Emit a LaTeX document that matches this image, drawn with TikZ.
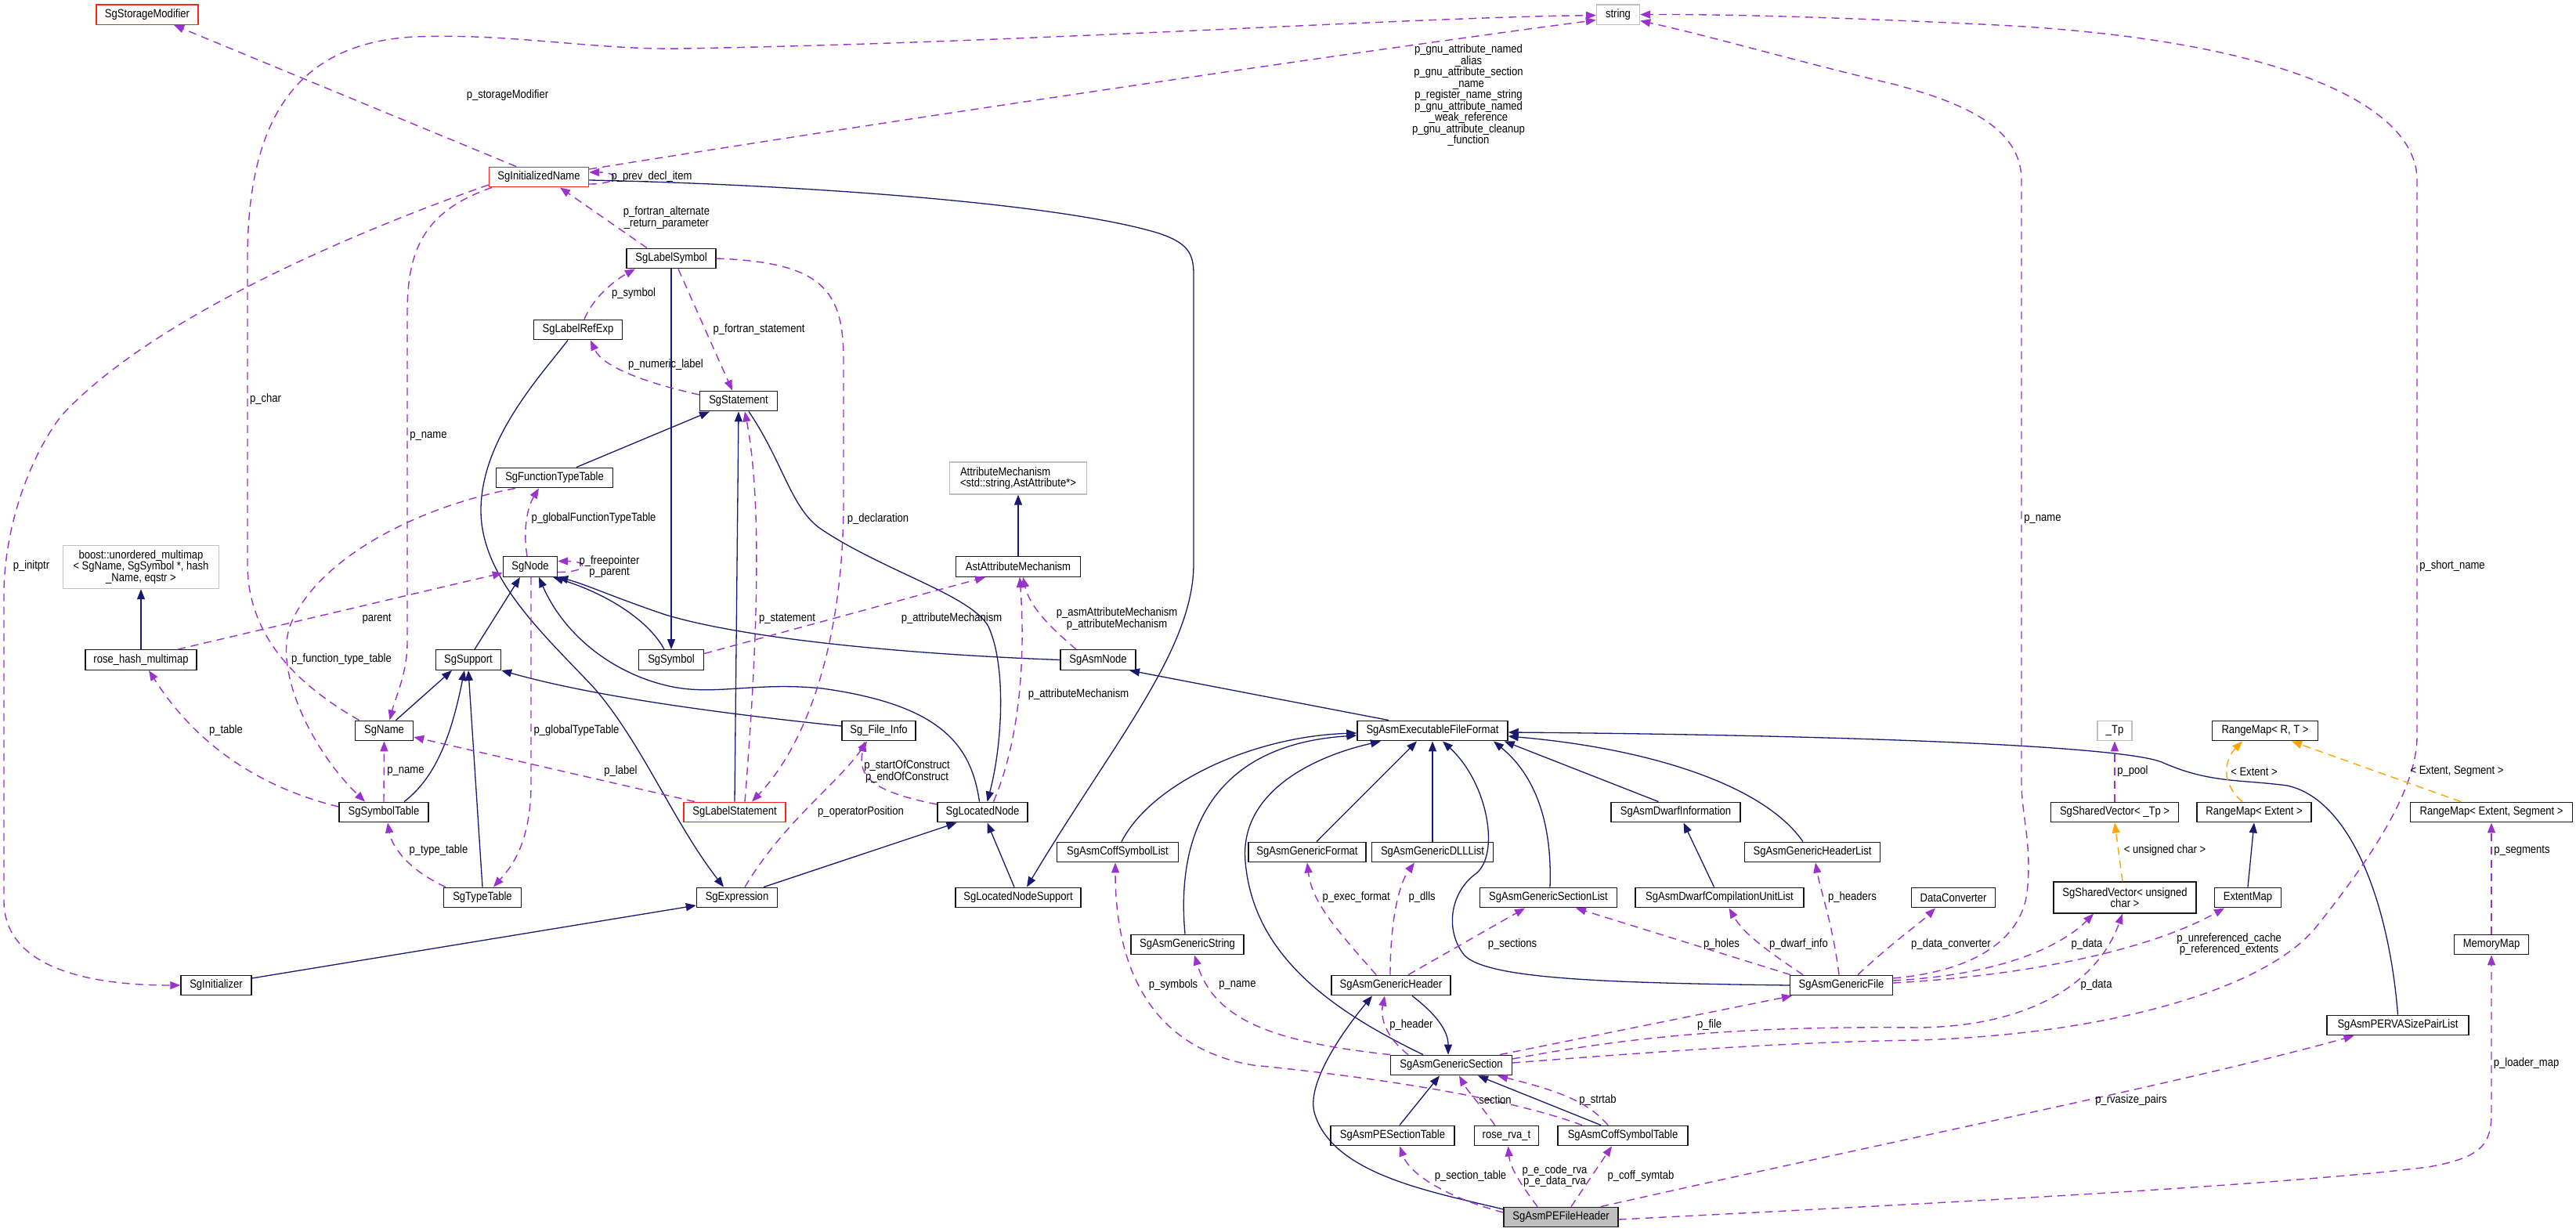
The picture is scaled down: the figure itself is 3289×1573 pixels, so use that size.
\documentclass[tikz,border=0pt]{standalone}
\usepackage{fontspec}
\setmainfont{Liberation Sans}[FakeStretch=0.87]
\usepackage{tikz}
\usetikzlibrary{arrows.meta}
\definecolor{edgeblue}{HTML}{191970}
\definecolor{edgepurple}{HTML}{9A32CD}
\definecolor{edgeorange}{HTML}{FFA500}
\definecolor{boxred}{HTML}{FF2020}
\definecolor{boxgray}{HTML}{BFBFBF}
\newcommand{\dgfont}{\fontsize{15pt}{14.5pt}\selectfont}

\begin{document}
\begin{tikzpicture}[x=1pt, y=-1pt, every node/.style={font=\dgfont},
    box/.style={rectangle, draw=black!90, line width=1.4pt, fill=white, minimum height=25.5pt, inner xsep=2pt, inner ysep=2pt},
    redbox/.style={box, draw=boxred},
    extbox/.style={box, draw=boxgray},
    inh/.style={draw=edgeblue, line width=1.3pt, -{Triangle[length=13pt,width=10pt]}},
    use/.style={draw=edgepurple, line width=1.4pt, dash pattern=on 10pt off 7pt, -{Triangle[length=13pt,width=10pt]}},
    tpl/.style={draw=edgeorange, line width=1.4pt, dash pattern=on 10pt off 7pt, -{Triangle[length=13pt,width=10pt]}},
    lbl/.style={inner sep=0pt, align=center}]
    \path[use as bounding box, fill=white] (0,0) rectangle (3289,1573);

    % Classes
    \node[redbox, minimum width=130pt] (stor) at (188,18.6) {SgStorageModifier};
    \node[extbox, minimum width=55pt] (str) at (2066,18.6) {string};
    \node[redbox, minimum width=127pt] (init) at (688,226) {SgInitializedName};
    \node[box, minimum width=114pt] (lsym) at (857,330) {SgLabelSymbol};
    \node[box, minimum width=113pt] (lref) at (738,421) {SgLabelRefExp};
    \node[box, minimum width=99pt] (stmt) at (943,512) {SgStatement};
    \node[box, minimum width=149pt] (ftt) at (708,610) {SgFunctionTypeTable};
    \node[extbox, minimum width=175pt, minimum height=41pt, align=left] (amech) at (1300,610.5) {AttributeMechanism\\<std::string,AstAttribute*>};
    \node[extbox, minimum width=199pt, minimum height=55pt, align=center] (umap) at (180,724) {boost::unordered\_multimap\\< SgName, SgSymbol *, hash\\\_Name, eqstr >};
    \node[box, minimum width=69pt] (node) at (677,723.5) {SgNode};
    \node[box, minimum width=159pt] (aam) at (1300,723.5) {AstAttributeMechanism};
    \node[box, minimum width=142pt] (rhm) at (180,842.5) {rose\_hash\_multimap};
    \node[box, minimum width=83pt] (supp) at (598,842.5) {SgSupport};
    \node[box, minimum width=83pt] (sym) at (857,842.5) {SgSymbol};
    \node[box, minimum width=96pt] (asmn) at (1402,842.5) {SgAsmNode};
    \node[box, minimum width=74pt] (name) at (490.5,933) {SgName};
    \node[box, minimum width=94pt] (finfo) at (1122,933) {Sg\_File\_Info};
    \node[box, minimum width=192pt] (exe) at (1829,933) {SgAsmExecutableFileFormat};
    \node[extbox, minimum width=44pt] (tp) at (2700,933) {\_Tp};
    \node[box, minimum width=135pt] (rmrt) at (2892,933) {RangeMap< R, T >};
    \node[box, minimum width=114pt] (stab) at (490,1037) {SgSymbolTable};
    \node[redbox, minimum width=130pt] (lstmt) at (938,1037) {SgLabelStatement};
    \node[box, minimum width=115pt] (loc) at (1254.5,1037) {SgLocatedNode};
    \node[box, minimum width=165pt] (dwi) at (2139.5,1037) {SgAsmDwarfInformation};
    \node[box, minimum width=163pt] (svtp) at (2700,1037) {SgSharedVector< \_Tp >};
    \node[box, minimum width=146pt] (rmext) at (2878,1037) {RangeMap< Extent >};
    \node[box, minimum width=207pt] (rmseg) at (3181,1037) {RangeMap< Extent, Segment >};
    \node[box, minimum width=155pt] (csl) at (1427,1088) {SgAsmCoffSymbolList};
    \node[box, minimum width=150pt] (gfmt) at (1669,1088) {SgAsmGenericFormat};
    \node[box, minimum width=155pt] (dll) at (1829,1088) {SgAsmGenericDLLList};
    \node[box, minimum width=173pt] (hlist) at (2314,1088) {SgAsmGenericHeaderList};
    \node[box, minimum width=99pt] (ttab) at (616,1146) {SgTypeTable};
    \node[box, minimum width=103pt] (expr) at (941,1146) {SgExpression};
    \node[box, minimum width=160pt] (lns) at (1300,1146) {SgLocatedNodeSupport};
    \node[box, minimum width=175pt] (slist) at (1977,1146) {SgAsmGenericSectionList};
    \node[box, minimum width=215pt] (dcu) at (2195.5,1146) {SgAsmDwarfCompilationUnitList};
    \node[box, minimum width=107pt] (dconv) at (2494,1146) {DataConverter};
    \node[box, minimum width=182pt, minimum height=40pt, align=center] (svuc) at (2713,1146) {SgSharedVector< unsigned\\char >};
    \node[box, minimum width=85pt] (emap) at (2870,1146) {ExtentMap};
    \node[box, minimum width=144pt] (gstr) at (1516,1206) {SgAsmGenericString};
    \node[box, minimum width=95pt] (mmap) at (3181,1206) {MemoryMap};
    \node[box, minimum width=90pt] (initz) at (276,1258) {SgInitializer};
    \node[box, minimum width=152pt] (ghdr) at (1776,1258) {SgAsmGenericHeader};
    \node[box, minimum width=131pt] (gfile) at (2351,1258) {SgAsmGenericFile};
    \node[box, minimum width=181pt] (rvap) at (3061.5,1309) {SgAsmPERVASizePairList};
    \node[box, minimum width=155pt] (gsec) at (1853,1360) {SgAsmGenericSection};
    \node[box, minimum width=158pt] (pest) at (1778,1450) {SgAsmPESectionTable};
    \node[box, minimum width=82pt] (rva) at (1923.5,1450) {rose\_rva\_t};
    \node[box, minimum width=166pt] (cst) at (2072,1450) {SgAsmCoffSymbolTable};
    \node[box, minimum width=146pt, fill=boxgray] (pefh) at (1993,1554) {SgAsmPEFileHeader};

    % Inheritance
    \draw[inh] (rhm.north) -- (umap.south);
    \draw[inh] (aam.north) -- (amech.south);
    \draw[inh] ([yshift=-4pt]init.east) .. controls (1000,235) and (1350,258) .. (1480,298) .. controls (1515,310) and (1524,322) .. (1524,350) -- (1524,720) .. controls (1524,830) and (1420,950) .. ([xshift=11pt]lns.north);
    \draw[inh] ([xshift=28pt]ftt.north) -- ([xshift=-37pt]stmt.south);
    \draw[inh] (lstmt.north) -- (stmt.south);
    \draw[inh] (lsym.south) -- (sym.north);
    \draw[inh] ([xshift=-13pt]lref.south) .. controls (690,480) and (615,560) .. (614,650) .. controls (613,740) and (700,815) .. (760,880) .. controls (820,950) and (860,1050) .. ([xshift=-17pt]expr.north);
    \draw[inh] ([xshift=13pt]stmt.south) .. controls (1000,590) and (1010,650) .. (1049,676) .. controls (1130,730) and (1240,760) .. (1262,800) .. controls (1285,850) and (1280,950) .. ([xshift=6pt]loc.north);
    \draw[inh] ([xshift=-9pt]sym.north) .. controls (830,795) and (780,760) .. ([xshift=-6pt]node.south east);
    \draw[inh] (asmn.west) .. controls (1150,835) and (950,815) .. (850,785) .. controls (790,765) and (745,745) .. (node.south east);
    \draw[inh] ([xshift=-4pt]loc.north) .. controls (1240,950) and (1200,900) .. (1050,879) .. controls (960,870) and (910,890) .. (850,875) .. controls (780,858) and (720,810) .. ([xshift=11pt]node.south);
    \draw[inh] ([xshift=8pt]supp.north) -- ([xshift=-13pt]node.south);
    \draw[inh] ([xshift=-56pt]exe.north) -- ([xshift=40pt]asmn.south);
    \draw[inh] ([xshift=34pt]expr.north) -- ([xshift=-33pt]loc.south);
    \draw[inh] ([yshift=9pt]initz.east) -- ([yshift=-10pt]expr.west);
    \draw[inh] ([xshift=-5pt]lns.north) -- ([xshift=6pt]loc.south);
    \draw[inh] ([xshift=15pt]name.north) -- ([xshift=-21pt]supp.south);
    \draw[inh] ([xshift=26pt]stab.north) .. controls (560,990) and (578,930) .. ([xshift=-5pt]supp.south);
    \draw[inh] (ttab.north) -- (supp.south);
    \draw[inh] ([yshift=6pt]finfo.west) .. controls (930,912) and (760,890) .. (supp.south east);
    \draw[inh] (emap.north) -- (rmext.south);
    \draw[inh] ([xshift=-7pt]dcu.north) -- ([xshift=10pt]dwi.south);
    \draw[inh] ([xshift=-22pt]dwi.north) -- ([xshift=-5pt]exe.south east);
    \draw[inh] ([xshift=5pt]csl.north) .. controls (1470,1000) and (1600,940) .. ([yshift=-3pt]exe.west);
    \draw[inh] ([xshift=-3pt]gstr.north) .. controls (1500,1050) and (1560,950) .. ([yshift=-6pt]exe.west);
    \draw[inh] ([xshift=12pt]gfmt.north) -- ([xshift=-20pt]exe.south);
    \draw[inh] (dll.north) -- (exe.south);
    \draw[inh] ([xshift=-36pt]gsec.north) .. controls (1700,1290) and (1600,1220) .. (1590,1100) .. controls (1582,1010) and (1680,965) .. ([xshift=-66pt]exe.south);
    \draw[inh] (gfile.west) .. controls (2050,1255) and (1900,1250) .. (1870,1220) .. controls (1845,1190) and (1850,1140) .. (1885,1115) .. controls (1915,1090) and (1900,1000) .. ([xshift=13pt]exe.south);
    \draw[inh] ([xshift=2pt]slist.north) .. controls (1982,1050) and (1960,990) .. ([xshift=78pt]exe.south);
    \draw[inh] ([xshift=-12pt]hlist.north) .. controls (2250,1000) and (2100,955) .. ([yshift=-7pt]exe.east);
    \draw[inh] (rvap.north) .. controls (3050,1150) and (3000,1020) .. (2920,1003) .. controls (2860,995) and (2820,1000) .. (2760,973) .. controls (2700,950) and (2300,938) .. ([yshift=-2pt]exe.east);
    \draw[inh] ([xshift=27pt]ghdr.south) .. controls (1840,1300) and (1849,1320) .. ([xshift=-4pt]gsec.north);
    \draw[inh] ([xshift=9pt]pest.north) -- ([xshift=-15pt]gsec.south);
    \draw[inh] ([xshift=-28pt]cst.north) -- ([xshift=34pt]gsec.south);
    \draw[inh] ([yshift=10pt]pefh.west) .. controls (1830,1522) and (1700,1500) .. (1678,1420) .. controls (1668,1380) and (1720,1310) .. ([xshift=-24pt]ghdr.south);

    % Members
    \draw[use] ([xshift=-29pt]init.north) -- ([xshift=34pt]stor.south);
    \draw[use] ([yshift=10pt]init.east) .. controls (1100,160) and (1700,70) .. ([yshift=-7pt]str.west);
    \draw[use] ([yshift=-9pt]init.east) .. controls +(40,0) and +(40,0) .. ([yshift=6pt]init.east);
    \draw[use] ([xshift=-31pt]lsym.north) -- ([xshift=27pt]init.south);
    \draw[use] ([xshift=8pt]lref.north) .. controls (760,375) and (790,355) .. ([xshift=-46pt]lsym.south);
    \draw[use] ([yshift=8pt]stmt.west) .. controls (830,490) and (770,470) .. ([xshift=16pt]lref.south);
    \draw[use] ([xshift=9pt]lsym.south) -- ([xshift=-8pt]stmt.north);
    \draw[use] (lsym.east) .. controls (1050,335) and (1077,370) .. (1077,460) -- (1077,640) .. controls (1077,820) and (1030,950) .. ([xshift=22pt]lstmt.north);
    \draw[use] ([xshift=13pt]lstmt.north) .. controls (965,850) and (975,650) .. ([xshift=8pt]stmt.south);
    \draw[use] ([yshift=8pt]sym.east) -- ([xshift=-42pt]aam.south);
    \draw[use] ([xshift=-28pt]asmn.north) .. controls (1340,800) and (1315,775) .. ([xshift=6pt]aam.south);
    \draw[use] ([xshift=14pt]loc.north) .. controls (1300,950) and (1310,850) .. ([xshift=2pt]aam.south);
    \draw[use] ([yshift=10pt]loc.west) .. controls (1110,1010) and (1095,990) .. ([xshift=-18pt]finfo.south);
    \draw[use] ([xshift=10pt]expr.north) .. controls (1000,1050) and (1070,1000) .. ([xshift=-15pt]finfo.south);
    \draw[use] ([xshift=-51pt]lstmt.north) -- ([yshift=-8pt]name.east);
    \draw[use] ([xshift=-32pt]name.north) .. controls (390,880) and (316,820) .. (316,720) -- (316,330) .. controls (316,150) and (380,55) .. (529,47) .. controls (650,42) and (760,64) .. (869,62) .. controls (1300,55) and (1800,22) .. ([yshift=-1pt]str.west);
    \draw[use] ([xshift=-60pt]init.south) .. controls (540,270) and (520,320) .. (520,400) -- (520,820) .. controls (520,860) and (505,890) .. ([xshift=7pt]name.north);
    \draw[use] ([yshift=-10pt]init.west) .. controls (470,290) and (200,400) .. (79,530) .. controls (40,580) and (5,670) .. (5,760) -- (5,1150) .. controls (5,1230) and (100,1258) .. (initz.west);
    \draw[use] ([xshift=47pt]rhm.north) -- ([yshift=-8pt]node.west);
    \draw[use] ([yshift=7pt]stab.west) .. controls (330,1005) and (250,950) .. ([xshift=10pt]rhm.south);
    \draw[use] ([xshift=-50pt]ftt.south) .. controls (520,650) and (400,720) .. (370,800) .. controls (350,860) and (400,960) .. ([xshift=-24pt]stab.north);
    \draw[use] ([xshift=-4pt]node.north) .. controls (668,680) and (672,650) .. ([xshift=-20pt]ftt.south);
    \draw[use] ([yshift=-7pt]node.east) .. controls +(40,0) and +(40,0) .. ([yshift=7pt]node.east);
    \draw[use] ([xshift=1pt]node.south) -- (678,1000) .. controls (678,1080) and (650,1110) .. ([xshift=14pt]ttab.north);
    \draw[use] ([xshift=-47pt]ttab.north) .. controls (520,1110) and (500,1080) .. ([xshift=5pt]stab.south);
    \draw[use] (stab.north) -- (name.south);
    \draw[use] ([xshift=-52pt]cst.north) .. controls (1920,1400) and (1750,1375) .. (1600,1360) .. controls (1480,1340) and (1424,1250) .. ([xshift=-3pt]csl.south);
    \draw[use] (gsec.north west) .. controls (1620,1330) and (1550,1300) .. ([xshift=9pt]gstr.south);
    \draw[use] ([xshift=-19pt]ghdr.north) .. controls (1700,1180) and (1675,1150) .. (gfmt.south);
    \draw[use] ([xshift=-1pt]ghdr.north) .. controls (1775,1180) and (1785,1130) .. ([xshift=-23pt]dll.south);
    \draw[use] ([xshift=22pt]ghdr.north) -- ([xshift=-30pt]slist.south);
    \draw[use] ([xshift=-65pt]gfile.north) -- ([xshift=35pt]slist.south);
    \draw[use] ([xshift=-49pt]gfile.north) .. controls (2250,1210) and (2225,1190) .. ([xshift=12pt]dcu.south);
    \draw[use] ([xshift=-3pt]gfile.north) .. controls (2340,1180) and (2325,1140) .. ([xshift=4pt]hlist.south);
    \draw[use] ([xshift=21pt]gfile.north) .. controls (2420,1200) and (2450,1180) .. ([xshift=-23pt]dconv.south);
    \draw[use] ([yshift=6pt]gfile.east) .. controls (2550,1245) and (2630,1210) .. ([xshift=-40pt]svuc.south);
    \draw[use] ([yshift=3pt]gfile.east) .. controls (2600,1245) and (2750,1210) .. ([xshift=-30pt]emap.south);
    \draw[use] ([yshift=9pt]gfile.east) .. controls (2520,1240) and (2580,1200) .. (2588,1140) .. controls (2595,1080) and (2581,1040) .. (2581,1000) -- (2581,230) .. controls (2581,160) and (2500,130) .. (2420,108) .. controls (2300,80) and (2180,45) .. ([yshift=-8pt]str.east);
    \draw[use] ([xshift=62pt]gsec.north) -- ([xshift=-63pt]gfile.south);
    \draw[use] ([xshift=-55pt]gsec.north) .. controls (1770,1325) and (1762,1300) .. ([xshift=-8pt]ghdr.south);
    \draw[use] ([yshift=8pt]gsec.east) .. controls (2100,1320) and (2250,1310) .. (2450,1312) .. controls (2600,1310) and (2680,1250) .. ([xshift=-3pt]svuc.south);
    \draw[use] ([yshift=3pt]gsec.east) .. controls (2150,1340) and (2300,1330) .. (2450,1328) .. controls (2700,1320) and (2900,1260) .. (2960,1180) .. controls (3040,1080) and (3086,1000) .. (3086,940) -- (3086,230) .. controls (3086,130) and (2900,50) .. (2550,32) .. controls (2350,22) and (2200,18) .. (str.east);
    \draw[use] ([xshift=-15pt]rva.north) .. controls (1890,1410) and (1875,1395) .. ([xshift=10pt]gsec.south);
    \draw[use] ([xshift=-19pt]cst.north) .. controls (2030,1410) and (2000,1395) .. ([xshift=59pt]gsec.south);
    \draw[use] ([yshift=6pt]pefh.west) .. controls (1850,1530) and (1800,1500) .. ([xshift=9pt]pest.south);
    \draw[use] ([xshift=-30pt]pefh.north) .. controls (1940,1510) and (1928,1490) .. ([xshift=2pt]rva.south);
    \draw[use] ([xshift=13pt]pefh.north) -- ([xshift=-14pt]cst.south);
    \draw[use] ([xshift=51pt]pefh.north) .. controls (2400,1460) and (2800,1380) .. ([xshift=-56pt]rvap.south);
    \draw[use] ([yshift=-3pt]pefh.east) .. controls (2400,1540) and (2900,1515) .. (3100,1490) .. controls (3170,1478) and (3181,1460) .. (3181,1420) -- (mmap.south);
    \draw[use] (mmap.north) -- (rmseg.south);
    \draw[use] (svtp.north) -- (tp.south);

    % Templates
    \draw[tpl] ([xshift=-3pt]svuc.north) -- (svtp.south);
    \draw[tpl] ([xshift=-15pt]rmext.north) .. controls (2835,1000) and (2840,970) .. ([xshift=-29pt]rmrt.south);
    \draw[tpl] ([xshift=-39pt]rmseg.north) -- ([xshift=34pt]rmrt.south);

    % Edge labels
    \node[lbl] (lstor) at (648,122) {p\_storageModifier};
    \node[lbl] (lgnu) at (1875,121.7) {p\_gnu\_attribute\_named\\\_alias\\p\_gnu\_attribute\_section\\\_name\\p\_register\_name\_string\\p\_gnu\_attribute\_named\\\_weak\_reference\\p\_gnu\_attribute\_cleanup\\\_function};
    \node[lbl] (lprev) at (832,226) {p\_prev\_decl\_item};
    \node[lbl] (lfalt) at (851,278) {p\_fortran\_alternate\\\_return\_parameter};
    \node[lbl] (lsymb) at (809,375) {p\_symbol};
    \node[lbl] (lnum) at (850,466) {p\_numeric\_label};
    \node[lbl] (lfst) at (969,421) {p\_fortran\_statement};
    \node[lbl] (ldecl) at (1121,662.5) {p\_declaration};
    \node[lbl] (lstat) at (1005,790) {p\_statement};
    \node[lbl] (lam1) at (1215,790) {p\_attributeMechanism};
    \node[lbl] (lam2) at (1426,790) {p\_asmAttributeMechanism\\p\_attributeMechanism};
    \node[lbl] (lam3) at (1377,887) {p\_attributeMechanism};
    \node[lbl] (lsoc) at (1158,985) {p\_startOfConstruct\\p\_endOfConstruct};
    \node[lbl] (lop) at (1099,1037) {p\_operatorPosition};
    \node[lbl] (llab) at (792.5,985) {p\_label};
    \node[lbl] (lchar) at (339,510) {p\_char};
    \node[lbl] (lname1) at (547,557) {p\_name};
    \node[lbl] (linit) at (40,723) {p\_initptr};
    \node[lbl] (lpar) at (481,790) {parent};
    \node[lbl] (ltab) at (288.5,933) {p\_table};
    \node[lbl] (lftt) at (436,842) {p\_function\_type\_table};
    \node[lbl] (lgftt) at (758,662) {p\_globalFunctionTypeTable};
    \node[lbl] (lfree) at (778,723.5) {p\_freepointer\\p\_parent};
    \node[lbl] (lgtt) at (736,933) {p\_globalTypeTable};
    \node[lbl] (ltt) at (560,1086) {p\_type\_table};
    \node[lbl] (lname2) at (518,985) {p\_name};
    \node[lbl] (lsyms) at (1498,1258) {p\_symbols};
    \node[lbl] (lname3) at (1580,1258) {p\_name};
    \node[lbl] (lexec) at (1731.7,1146) {p\_exec\_format};
    \node[lbl] (ldlls) at (1815.7,1146) {p\_dlls};
    \node[lbl] (lsecs) at (1931,1206) {p\_sections};
    \node[lbl] (lholes) at (2198,1206) {p\_holes};
    \node[lbl] (ldwarf) at (2296.5,1206) {p\_dwarf\_info};
    \node[lbl] (lhdrs) at (2365,1146) {p\_headers};
    \node[lbl] (ldconv) at (2491,1206) {p\_data\_converter};
    \node[lbl] (ldata1) at (2664.5,1206) {p\_data};
    \node[lbl] (lcache) at (2846,1205.5) {p\_unreferenced\_cache\\p\_referenced\_extents};
    \node[lbl] (lname4) at (2608,663) {p\_name};
    \node[lbl] (lfile) at (2182.6,1308.7) {p\_file};
    \node[lbl] (lhdr) at (1802,1308.7) {p\_header};
    \node[lbl] (ldata2) at (2676.6,1258) {p\_data};
    \node[lbl] (lshort) at (3131,723) {p\_short\_name};
    \node[lbl] (lsect) at (1909,1404.6) {section};
    \node[lbl] (lstrtab) at (2040,1404.6) {p\_strtab};
    \node[lbl] (lsectab) at (1877.5,1501.6) {p\_section\_table};
    \node[lbl] (lrva) at (1985,1501.8) {p\_e\_code\_rva\\p\_e\_data\_rva};
    \node[lbl] (lcoff) at (2095,1501.6) {p\_coff\_symtab};
    \node[lbl] (lpairs) at (2721,1404.6) {p\_rvasize\_pairs};
    \node[lbl] (lload) at (3225.6,1358) {p\_loader\_map};
    \node[lbl] (lseg) at (3220,1086) {p\_segments};
    \node[lbl] (lpool) at (2723,985) {p\_pool};
    \node[lbl] (luc) at (2764,1086) {< unsigned char >};
    \node[lbl] (lext) at (2878,985) {< Extent >};
    \node[lbl] (lextseg) at (3137,985) {< Extent, Segment >};
\end{tikzpicture}
\end{document}
